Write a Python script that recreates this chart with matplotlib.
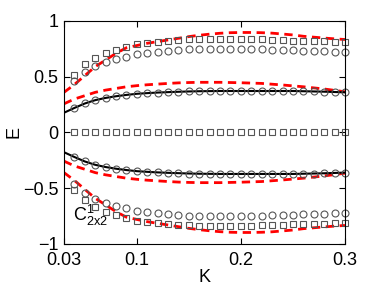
import matplotlib
matplotlib.use("Agg")
import matplotlib.pyplot as plt
import numpy as np

plt.rcParams['font.family'] = ['Liberation Sans', 'DejaVu Sans']
plt.rcParams['mathtext.fontset'] = 'custom'
plt.rcParams['mathtext.rm'] = 'Liberation Sans'
plt.rcParams['mathtext.it'] = 'Liberation Sans'

# line data, K = 0.03 ... 0.30
K_line = [0.03, 0.04, 0.05, 0.06, 0.07, 0.08, 0.09, 0.10, 0.11, 0.12,
          0.13, 0.14, 0.15, 0.16, 0.17, 0.18, 0.19, 0.20, 0.21, 0.22,
          0.23, 0.24, 0.25, 0.26, 0.27, 0.28, 0.29, 0.30]
red_outer = [0.36, 0.43, 0.51, 0.59, 0.65, 0.71, 0.76, 0.78, 0.80, 0.815,
             0.83, 0.845, 0.86, 0.872, 0.882, 0.89, 0.895, 0.897, 0.897, 0.895,
             0.891, 0.883, 0.875, 0.863, 0.855, 0.847, 0.84, 0.834]
red_inner = [0.257, 0.30, 0.33, 0.36, 0.38, 0.395, 0.41, 0.42, 0.428, 0.434,
             0.44, 0.445, 0.448, 0.45, 0.45, 0.45, 0.448, 0.446, 0.443, 0.44,
             0.433, 0.426, 0.418, 0.41, 0.40, 0.39, 0.378, 0.365]
black = [0.177, 0.22, 0.26, 0.29, 0.31, 0.325, 0.337, 0.347, 0.353, 0.358,
         0.362, 0.365, 0.368, 0.37, 0.371, 0.372, 0.372, 0.372, 0.372, 0.372,
         0.372, 0.372, 0.372, 0.37, 0.368, 0.366, 0.363, 0.36]

# marker data, K = 0.04 ... 0.30
K_pts = K_line[1:]
sq_outer = [0.52, 0.61, 0.67, 0.71, 0.74, 0.77, 0.79, 0.80, 0.81, 0.82,
            0.83, 0.834, 0.836, 0.838, 0.84, 0.84, 0.838, 0.836, 0.834, 0.83,
            0.828, 0.825, 0.822, 0.82, 0.817, 0.813, 0.81]
circ_outer = [0.46, 0.54, 0.595, 0.63, 0.66, 0.68, 0.70, 0.715, 0.72, 0.73,
              0.74, 0.745, 0.748, 0.75, 0.75, 0.75, 0.75, 0.748, 0.745, 0.742,
              0.74, 0.737, 0.735, 0.732, 0.728, 0.725, 0.722]
circ_inner = black[1:]
sq_zero = [0.0] * len(K_pts)

fig = plt.figure(figsize=(3.82, 2.86), dpi=100)
ax = fig.add_axes([0.1675, 0.147, 0.7355, 0.7796])

gray = '#555555'
mk = dict(mfc='none', mec=gray, mew=0.8, clip_on=False, ls='none')
for s in (1, -1):
    ax.plot(K_line, s * np.array(red_outer), '--', color='red', lw=2, dashes=(3, 2))
    ax.plot(K_line, s * np.array(red_inner), '--', color='red', lw=2, dashes=(3, 2))
    ax.plot(K_line, s * np.array(black), '-', color='black', lw=1.5)
    ax.plot(K_pts, s * np.array(sq_outer), marker='s', ms=4.2, **mk)
    ax.plot(K_pts, s * np.array(circ_outer), marker='o', ms=5, **mk)
    ax.plot(K_pts, s * np.array(circ_inner), marker='o', ms=5, **mk)
ax.plot(K_pts, sq_zero, marker='s', ms=4.2, **mk)

ax.set_xlim(0.03, 0.3)
ax.set_ylim(-1, 1)
ax.set_xticks([0.03, 0.1, 0.2, 0.3])
ax.set_xticklabels(['0.03', '0.1', '0.2', '0.3'])
ax.set_yticks([-1, -0.5, 0, 0.5, 1])
ax.set_yticklabels(['\u22121', '\u22120.5', '0', '0.5', '1'])
ax.tick_params(direction='in', top=True, right=True, labelsize=13, length=4)
ax.tick_params(axis='x', pad=6)
ax.tick_params(axis='y', pad=4)
ax.set_xlabel('K', fontsize=13, labelpad=0)
ax.set_ylabel('E', fontsize=13, labelpad=0)

ax.text(0.0385, -0.745, r'$\mathregular{C^1_{2x2}}$', fontsize=13, va='center')

fig.savefig('out.png', dpi=100)
